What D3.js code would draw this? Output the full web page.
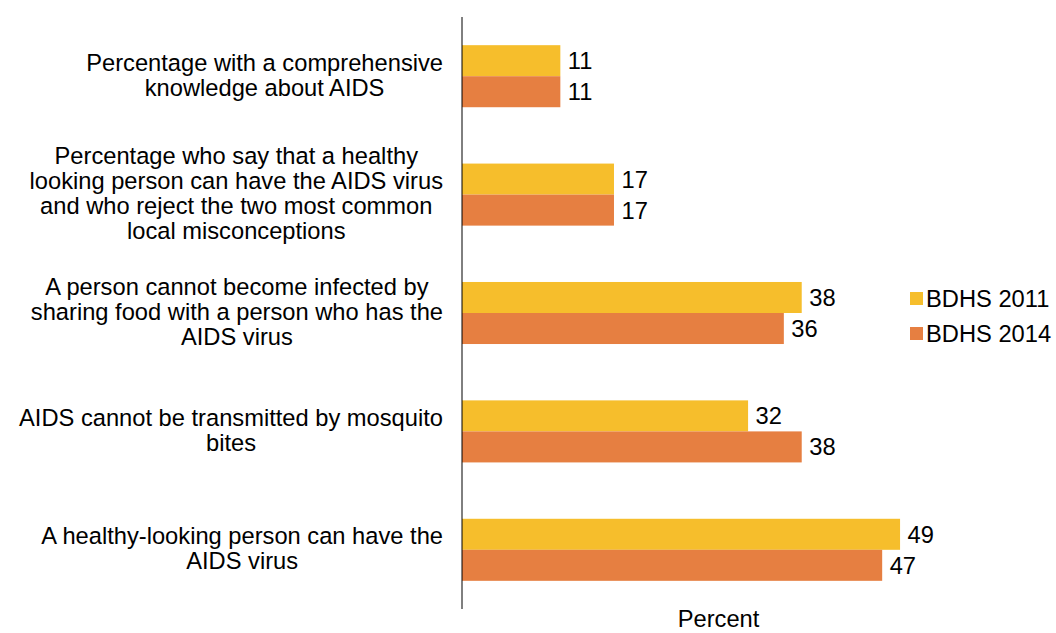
<!DOCTYPE html>
<html>
<head>
<meta charset="utf-8">
<script src="https://cdn.jsdelivr.net/npm/d3@7"></script>
<style>
  html, body { margin: 0; padding: 0; background: #fff; }
  svg { display: block; font-family: "Liberation Sans", Arial, sans-serif; }
</style>
</head>
<body>
<svg id="chart" width="1056" height="633"></svg>
<script>
const categories = [
  ["Percentage with a comprehensive", "knowledge about AIDS"],
  ["Percentage who say that a healthy", "looking person can have the AIDS virus", "and who reject the two most common", "local misconceptions"],
  ["A person cannot become infected by", "sharing food with a person who has the", "AIDS virus"],
  ["AIDS cannot be transmitted by mosquito", "bites"],
  ["A healthy-looking person can have the", "AIDS virus"]
];
const seriesNames = ["BDHS 2011", "BDHS 2014"];
const values2011 = [11, 17, 38, 32, 49];
const values2014 = [11, 17, 36, 38, 47];
const colors = ["#F6BE2C", "#E67F41"];
const axisTitle = "Percent";

const svg = d3.select("#chart");
const fontSize = 23.7;
const catIdx = d3.range(categories.length);

const x = d3.scaleLinear().domain([0, 60]).range([462, 462 + 8.94 * 60]);
const y = d3.scaleBand().domain(catIdx).range([17, 609]).paddingInner(0.476).paddingOuter(0.238);
const ySub = d3.scaleBand().domain(d3.range(seriesNames.length)).range([0, y.bandwidth()]);

const seriesVals = [values2011, values2014];

// bars
seriesVals.forEach((vals, s) => {
  svg.append("g").selectAll("rect").data(vals).join("rect")
    .attr("x", x(0))
    .attr("y", (d, i) => y(i) + ySub(s))
    .attr("width", d => x(d) - x(0))
    .attr("height", ySub.bandwidth())
    .attr("fill", colors[s]);
  svg.append("g").selectAll("text").data(vals).join("text")
    .attr("x", d => x(d) + 7.5)
    .attr("y", (d, i) => y(i) + ySub(s) + ySub.bandwidth() / 2)
    .attr("dy", "0.36em")
    .attr("font-size", fontSize)
    .attr("fill", "#000")
    .text(d => d);
});

// axis line
svg.append("line")
  .attr("x1", x(0)).attr("x2", x(0))
  .attr("y1", 17).attr("y2", 609)
  .attr("stroke", "#000").attr("stroke-width", 1);

// category labels: block right-aligned at 443, lines centered within block
const lineH = 25;
categories.forEach((lines, i) => {
  const g = svg.append("g");
  const cy = y(i) + y.bandwidth() / 2;
  const t = g.append("text").attr("font-size", fontSize).attr("fill", "#000").attr("text-anchor", "middle");
  const n = lines.length;
  lines.forEach((ln, k) => {
    t.append("tspan").attr("x", 0)
      .attr("y", cy + (k - (n - 1) / 2) * lineH - 1.5)
      .attr("dy", "0.36em")
      .text(ln);
  });
  let maxW = 0;
  t.selectAll("tspan").each(function () { maxW = Math.max(maxW, this.getComputedTextLength()); });
  t.selectAll("tspan").attr("x", 443 - maxW / 2);
});

// axis title
svg.append("text")
  .attr("x", 718.5).attr("y", 627)
  .attr("text-anchor", "middle")
  .attr("font-size", fontSize)
  .text(axisTitle);

// legend
const legend = svg.append("g");
seriesNames.forEach((name, s) => {
  const ly = 298.5 + s * 35;
  legend.append("rect").attr("x", 910).attr("y", ly - 6.5).attr("width", 13).attr("height", 13).attr("fill", colors[s]);
  legend.append("text").attr("x", 926).attr("y", ly).attr("dy", "0.36em")
    .attr("font-size", fontSize).text(name);
});
</script>
</body>
</html>
